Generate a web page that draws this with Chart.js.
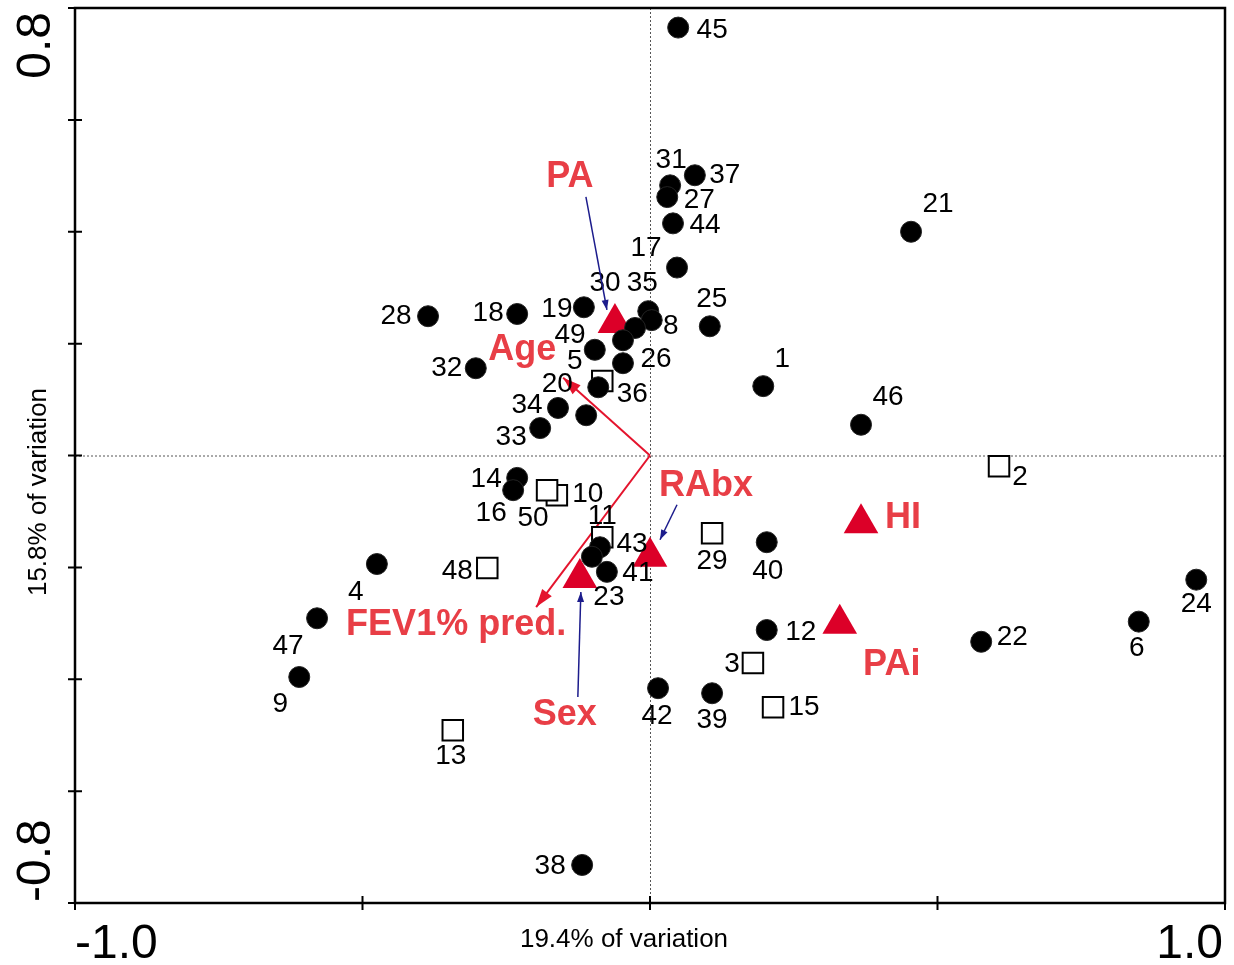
<!DOCTYPE html>
<html>
<head>
<meta charset="utf-8">
<script src="https://cdn.jsdelivr.net/npm/chart.js@4.4.0/dist/chart.umd.min.js"></script>
<style>
  html, body { margin: 0; padding: 0; background: #fff; }
  canvas { display: block; }
</style>
</head>
<body>
<canvas id="rda" width="1234" height="965"></canvas>
<script>
// samples drawn as filled circles
const circleIds = [45, 31, 27, 37, 44, 17, 21, 25, 35, 8, 30, 49, 5, 26, 20, 34, 7, 33, 19, 18,
  28, 32, 1, 46, 14, 16, 4, 47, 9, 43, 23, 41, 40, 12, 42, 39, 22, 6, 24, 38];
const circleX = [0.049, 0.035, 0.030, 0.078, 0.040, 0.047, 0.454, 0.104, -0.003, 0.003, -0.026, -0.047, -0.096, -0.047, -0.090, -0.160, -0.111, -0.191, -0.115, -0.231,
  -0.386, -0.303, 0.197, 0.367, -0.231, -0.238, -0.475, -0.579, -0.610, -0.087, -0.101, -0.075, 0.203, 0.203, 0.014, 0.108, 0.576, 0.850, 0.950, -0.118];
const circleY = [0.765, 0.483, 0.462, 0.501, 0.415, 0.336, 0.400, 0.231, 0.258, 0.242, 0.228, 0.206, 0.189, 0.165, 0.122, 0.085, 0.072, 0.049, 0.265, 0.253,
  0.249, 0.156, 0.124, 0.055, -0.040, -0.062, -0.194, -0.291, -0.396, -0.164, -0.181, -0.208, -0.155, -0.312, -0.416, -0.425, -0.333, -0.297, -0.222, -0.732];

// samples drawn as open squares
const squareIds = [36, 2, 10, 50, 11, 48, 29, 3, 15, 13];
const squareX = [-0.083, 0.607, -0.162, -0.179, -0.083, -0.283, 0.108, 0.179, 0.214, -0.343];
const squareY = [0.133, -0.019, -0.071, -0.062, -0.146, -0.201, -0.139, -0.371, -0.450, -0.491];

// nominal explanatory variables (centroids, red triangles)
const centroidNames = ['PA', 'RAbx', 'Sex', 'HI', 'PAi'];
const centroidX = [-0.061, 0.000, -0.122, 0.367, 0.330];
const centroidY = [0.237, -0.181, -0.219, -0.121, -0.301];

// quantitative explanatory variables (arrows from origin)
const arrowNames = ['Age', 'FEV1% pred.'];
const arrowX = [-0.151, -0.198];
const arrowY = [0.139, -0.271];

// axes
const xTicks = [-1.0, -0.5, 0, 0.5, 1.0];
const yTicks = [-0.8, -0.6, -0.4, -0.2, 0, 0.2, 0.4, 0.6, 0.8];
const xTickLabels = ['-1.0', '1.0'];
const yTickLabels = ['-0.8', '0.8'];
const xTitle = '19.4% of variation';
const yTitle = '15.8% of variation';

// label placement, pixel offsets from the marker
const sampleLabelOffset = {
  45: [34, 2], 31: [1, -26], 37: [30, -1], 27: [32, 2], 44: [32, 1], 17: [-31, -20], 21: [27, -28],
  25: [2, -28], 35: [-6, -29], 8: [19, 5], 30: [-30, -46], 49: [-53, -6], 5: [-20, 11], 26: [33, -5],
  36: [30, 12], 20: [-41, -4], 34: [-31, -4], 33: [-29, 8], 19: [-27, 1], 18: [-29, -2], 28: [-32, -1],
  32: [-29, -1], 1: [19, -28], 46: [27, -28], 2: [21, 10], 14: [-31, 0], 16: [-22, 22], 50: [-14, 27],
  10: [31, -2], 11: [0, -22], 43: [32, -4], 41: [31, 0], 23: [17, 40], 48: [-30, 2], 4: [-21, 27],
  47: [-29, 27], 9: [-19, 26], 29: [0, 27], 40: [1, 28], 12: [34, 1], 3: [-21, 0], 15: [31, -1],
  42: [-1, 27], 39: [0, 26], 22: [31, -5], 6: [-2, 26], 24: [0, 24], 13: [-2, 25], 38: [-32, 0]
};
const varLabelOffset = {
  PA: [-45, -147], RAbx: [56, -72], Sex: [-15, 136], HI: [42, -6], PAi: [52, 40],
  Age: [-41, -29], 'FEV1% pred.': [-80, 17]
};
// blue leader lines (start, end) relative to the centroid marker
const leaders = {
  PA: [[-29, -126], [-8, -13]],
  RAbx: [[27, -52], [10, -17]],
  Sex: [[-2, 119], [1, 14]]
};

const FONT = '"Liberation Sans", Arial, sans-serif';
const RED_TEXT = 'rgb(232,62,70)';
const RED_MARK = 'rgb(220,0,40)';
const RED_ARROW = 'rgb(228,20,45)';
const NAVY = 'rgb(28,28,140)';

function arrowHead(ctx, x0, y0, x1, y1, len, half) {
  const a = Math.atan2(y1 - y0, x1 - x0);
  ctx.beginPath();
  ctx.moveTo(x1, y1);
  ctx.lineTo(x1 - len * Math.cos(a) + half * Math.sin(a), y1 - len * Math.sin(a) - half * Math.cos(a));
  ctx.lineTo(x1 - len * Math.cos(a) - half * Math.sin(a), y1 - len * Math.sin(a) + half * Math.cos(a));
  ctx.closePath();
  ctx.fill();
}

const ordination = {
  id: 'ordination',
  beforeDatasetsDraw(chart) {
    const { ctx, chartArea: a, scales: { x, y } } = chart;
    const x0 = x.getPixelForValue(0), y0 = y.getPixelForValue(0);
    ctx.save();
    // dotted zero lines
    ctx.strokeStyle = '#555';
    ctx.lineWidth = 1;
    ctx.setLineDash([2, 2]);
    ctx.beginPath();
    ctx.moveTo(a.left, y0 + 0.5); ctx.lineTo(a.right, y0 + 0.5);
    ctx.moveTo(x0 + 0.5, a.top); ctx.lineTo(x0 + 0.5, a.bottom);
    ctx.stroke();
    ctx.setLineDash([]);
    // red arrows for quantitative variables
    ctx.strokeStyle = RED_ARROW;
    ctx.fillStyle = RED_ARROW;
    ctx.lineWidth = 2;
    arrowNames.forEach((n, i) => {
      const px = x.getPixelForValue(arrowX[i]), py = y.getPixelForValue(arrowY[i]);
      ctx.beginPath();
      ctx.moveTo(x0, y0);
      ctx.lineTo(px, py);
      ctx.stroke();
      arrowHead(ctx, x0, y0, px, py, 18, 6);
    });
    ctx.restore();
  },
  afterDatasetsDraw(chart) {
    const { ctx, chartArea: a, scales: { x, y } } = chart;
    ctx.save();
    // frame
    ctx.strokeStyle = '#000';
    ctx.lineWidth = 2.5;
    ctx.strokeRect(a.left, a.top, a.right - a.left, a.bottom - a.top);
    // ticks crossing the left and bottom axes
    ctx.lineWidth = 2;
    ctx.beginPath();
    yTicks.forEach(v => {
      const py = y.getPixelForValue(v);
      ctx.moveTo(a.left - 7, py); ctx.lineTo(a.left + 7, py);
    });
    xTicks.forEach(v => {
      const px = x.getPixelForValue(v);
      ctx.moveTo(px, a.bottom - 7); ctx.lineTo(px, a.bottom + 7);
    });
    ctx.stroke();

    // tick labels at the ends
    ctx.fillStyle = '#000';
    ctx.font = '48px ' + FONT;
    ctx.textBaseline = 'alphabetic';
    ctx.textAlign = 'left';
    ctx.fillText(xTickLabels[0], a.left, 958);
    ctx.textAlign = 'right';
    ctx.fillText(xTickLabels[1], a.right - 2, 958);
    ctx.save();
    ctx.translate(50, 0);
    ctx.rotate(-Math.PI / 2);
    ctx.textAlign = 'left';
    ctx.fillText(yTickLabels[0], -a.bottom + 1, 0);
    ctx.textAlign = 'right';
    ctx.fillText(yTickLabels[1], -a.top - 4, 0);
    ctx.restore();

    // axis titles
    ctx.font = '26px ' + FONT;
    ctx.textAlign = 'center';
    ctx.fillText(xTitle, 624, 947);
    ctx.save();
    ctx.translate(46, 492);
    ctx.rotate(-Math.PI / 2);
    ctx.fillText(yTitle, 0, 0);
    ctx.restore();

    // sample numbers
    ctx.font = '28px ' + FONT;
    ctx.textBaseline = 'middle';
    const sampleLabel = (id, vx, vy) => {
      const off = sampleLabelOffset[id];
      if (!off) return;
      ctx.fillText(String(id), x.getPixelForValue(vx) + off[0], y.getPixelForValue(vy) + off[1] + 1);
    };
    circleIds.forEach((id, i) => sampleLabel(id, circleX[i], circleY[i]));
    squareIds.forEach((id, i) => sampleLabel(id, squareX[i], squareY[i]));

    // blue leader lines
    ctx.strokeStyle = NAVY;
    ctx.fillStyle = NAVY;
    ctx.lineWidth = 1.5;
    centroidNames.forEach((n, i) => {
      const l = leaders[n];
      if (!l) return;
      const px = x.getPixelForValue(centroidX[i]), py = y.getPixelForValue(centroidY[i]);
      const sx = px + l[0][0], sy = py + l[0][1], ex = px + l[1][0], ey = py + l[1][1];
      ctx.beginPath();
      ctx.moveTo(sx, sy); ctx.lineTo(ex, ey);
      ctx.stroke();
      arrowHead(ctx, sx, sy, ex, ey, 10, 3.5);
    });

    // variable names
    ctx.fillStyle = RED_TEXT;
    ctx.font = 'bold 36px ' + FONT;
    const varLabel = (n, vx, vy) => {
      const off = varLabelOffset[n];
      ctx.fillText(n, x.getPixelForValue(vx) + off[0], y.getPixelForValue(vy) + off[1] + 1);
    };
    centroidNames.forEach((n, i) => varLabel(n, centroidX[i], centroidY[i]));
    arrowNames.forEach((n, i) => varLabel(n, arrowX[i], arrowY[i]));
    ctx.restore();
  }
};

const toPoints = (xs, ys) => xs.map((v, i) => ({ x: v, y: ys[i] }));

new Chart(document.getElementById('rda'), {
  type: 'scatter',
  data: {
    datasets: [
      {
        label: 'samples',
        data: toPoints(circleX, circleY),
        pointStyle: 'circle',
        pointRadius: 10.5,
        backgroundColor: '#000',
        borderColor: '#222',
        borderWidth: 1,
        order: 1
      },
      {
        label: 'samples (open)',
        data: toPoints(squareX, squareY),
        pointStyle: 'rect',
        pointRadius: 14.5,
        backgroundColor: '#fff',
        borderColor: '#000',
        borderWidth: 2,
        order: 2
      },
      {
        label: 'centroids',
        data: toPoints(centroidX, centroidY),
        pointStyle: 'triangle',
        pointRadius: 20,
        backgroundColor: RED_MARK,
        borderColor: RED_MARK,
        borderWidth: 0,
        order: 3
      }
    ]
  },
  options: {
    responsive: false,
    animation: false,
    layout: { autoPadding: false, padding: { left: 75, right: 9, top: 8, bottom: 62 } },
    plugins: { legend: { display: false }, tooltip: { enabled: false } },
    scales: {
      x: { type: 'linear', min: -1, max: 1, display: false },
      y: { type: 'linear', min: -0.8, max: 0.8, display: false }
    }
  },
  plugins: [ordination]
});
</script>
</body>
</html>
